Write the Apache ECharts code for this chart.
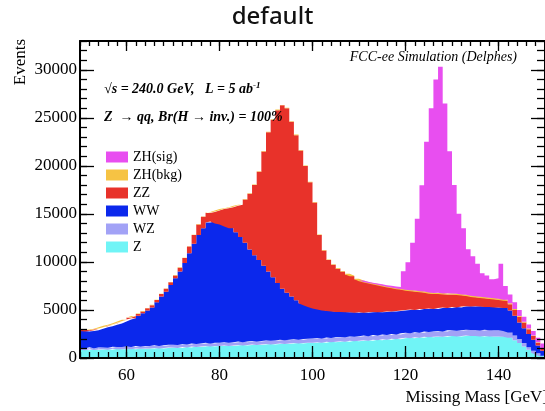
<!DOCTYPE html>
<html><head><meta charset="utf-8">
<script src="https://cdn.jsdelivr.net/npm/echarts@6/dist/echarts.min.js"></script>
<style>html,body{margin:0;padding:0;background:#fff}#c{width:545px;height:411px}</style>
</head><body><div id="c"></div>
<script>
// Bin edges: 1 GeV wide bins from 50 to 150 GeV
const binEdges = [];
for (let i = 0; i <= 100; i++) binEdges.push(50 + i);
const xMajorTicks = [60, 80, 100, 120, 140];
const yMajorTicks = [0, 5000, 10000, 15000, 20000, 25000, 30000];
const legendOrder = ['ZH(sig)', 'ZH(bkg)', 'ZZ', 'WW', 'WZ', 'Z'];

const valZ = [850,800,900,820,880,900,850,950,900,920,
950,900,1000,950,980,1000,1050,980,1050,1100,
1100,1050,1150,1100,1200,1150,1200,1250,1200,1250,
1250,1300,1250,1300,1350,1300,1350,1400,1350,1400,
1450,1400,1450,1500,1450,1500,1550,1500,1550,1600,
1600,1650,1600,1700,1650,1700,1750,1700,1800,1750,
1800,1850,1800,1900,1850,1950,1900,2000,1950,2050,
2100,2050,2150,2100,2200,2150,2200,2250,2200,2300,
2300,2250,2300,2350,2300,2300,2250,2300,2250,2250,
2250,2200,2100,1850,1550,1200,850,550,350,150];

const valWZ = [200,180,220,200,210,200,230,220,240,230,
250,240,260,250,270,260,280,270,290,280,
290,300,290,310,300,320,310,330,320,330,
340,330,350,340,360,350,370,360,380,370,
380,390,380,400,390,400,410,400,420,410,
420,430,420,440,430,450,440,460,450,470,
460,480,470,490,480,500,490,510,500,520,
530,520,540,530,550,560,550,570,560,580,
580,590,600,590,610,620,610,630,640,650,
650,620,550,480,420,350,280,200,150,80];

const valWW = [1750,1770,1680,1880,1960,2100,2220,2280,2460,2650,
2800,3010,3140,3450,3700,3990,4470,5150,5560,6220,
6910,7650,8460,9490,10400,11330,11990,12520,12680,12420,
12310,12070,11900,11460,10890,10350,9580,8940,8470,7830,
7170,6610,5970,5300,4960,4500,4040,3800,3530,3290,
3130,2970,2930,2760,2770,2650,2610,2590,2500,2480,
2490,2370,2480,2410,2420,2350,2460,2340,2450,2380,
2370,2480,2310,2470,2350,2440,2350,2380,2490,2320,
2420,2410,2450,2460,2440,2480,2490,2370,2410,2350,
2350,2380,2300,2070,1730,1550,1370,1150,800,520];

const valZZ = [150,130,160,150,140,160,150,170,200,190,
200,210,190,200,220,250,240,260,300,290,
300,400,500,700,900,1100,1200,1000,1000,1350,
1600,1900,2200,2750,3350,4500,5800,7300,9200,11900,
14500,16400,18000,19100,19200,18200,17200,15900,14500,13000,
11050,7750,6250,5300,4850,4500,4200,3950,3750,3500,
3250,3150,3000,2850,2800,2650,2500,2400,2250,2150,
2000,1900,1900,1750,1700,1550,1550,1450,1350,1400,
1300,1300,1150,1050,1000,900,900,900,850,850,
800,750,650,600,600,600,500,400,300,250];

const valZHbkg = [30,20,30,30,20,30,30,40,30,30,
30,30,40,30,30,40,30,40,40,30,
40,40,30,40,40,50,40,40,50,40,
50,40,50,50,40,50,50,60,50,50,
60,50,60,50,60,50,60,50,50,60,
50,60,50,60,50,60,50,60,60,50,
60,70,60,70,80,70,80,90,80,90,
100,110,120,110,120,130,120,130,120,130,
120,130,120,130,120,120,130,120,120,120,
120,110,100,90,80,70,60,50,40,30];

const valZHsig = [0,0,0,0,0,0,0,0,0,0,
0,0,0,0,0,0,0,0,0,0,
0,0,0,0,0,0,0,0,0,0,
0,0,0,0,0,0,0,0,0,0,
0,0,0,0,0,0,0,0,0,0,
0,0,0,0,0,0,0,0,0,0,
20,30,30,40,50,60,80,100,150,1840,
2880,4930,7480,11030,15580,19180,22230,23530,19780,14780,
11280,8330,6880,4730,4130,3380,2430,2280,1930,2080,
3630,1430,900,710,620,530,440,450,460,470];

const colors = {
  'Z': '#70f4f6', 'WZ': '#a2a2f6', 'WW': '#0b28ec',
  'ZZ': '#e8322a', 'ZH(bkg)': '#f6c344', 'ZH(sig)': '#e84ef0'
};

// Histogram drawn as a stacked step area; each bin value is held until the next edge.
// Empty bins are left out so that they draw no hairline.
function mk(name, vals) {
  const data = vals.concat([vals[vals.length - 1]]).map(function (v) { return v === 0 ? '-' : v; });
  return {
    name: name, type: 'line', stack: 'all', step: 'end', data: data,
    xAxisIndex: 0, yAxisIndex: 0,
    symbol: 'none', showSymbol: false,
    itemStyle: { color: colors[name] },
    lineStyle: { color: colors[name], width: 0, opacity: 0 },
    areaStyle: { color: colors[name], opacity: 1 },
    emphasis: { disabled: true }, silent: true
  };
}

const serif = 'Liberation Serif';
const black = '#000';
const frameLine = { show: true, onZero: false, lineStyle: { color: black, width: 2 } };
const noLine = { show: false, onZero: false };
const plain = function (v) { return String(v); };

function xAx(pos, major, len) {
  const a = {
    type: 'value', min: 50, max: 150, position: pos, z: 10,
    splitLine: { show: false },
    axisLine: major ? frameLine : noLine,
    axisTick: { show: true, inside: true, length: len, lineStyle: { color: black, width: 1.3 } },
    axisLabel: { show: false }
  };
  if (major) {
    a.axisTick.customValues = xMajorTicks;
    if (pos === 'bottom') {
      a.axisLabel = { show: true, customValues: xMajorTicks, margin: 9, formatter: plain,
        fontFamily: serif, fontSize: 17, color: black };
    }
  } else {
    a.interval = 2;
  }
  return a;
}
function yAx(pos, major, len) {
  const a = {
    type: 'value', min: 0, max: 33000, position: pos, z: 10,
    splitLine: { show: false },
    axisLine: major ? frameLine : noLine,
    axisTick: { show: true, inside: true, length: len, lineStyle: { color: black, width: 1.3 } },
    axisLabel: { show: false }
  };
  if (major) {
    a.axisTick.customValues = yMajorTicks;
    if (pos === 'left') {
      a.axisLabel = { show: true, customValues: yMajorTicks, margin: 3, formatter: plain,
        fontFamily: serif, fontSize: 17, color: black };
    }
  } else {
    a.interval = 1000;
  }
  return a;
}

const chart = echarts.init(document.getElementById('c'), null, { renderer: 'canvas' });
chart.setOption({
  animation: false,
  backgroundColor: '#fff',
  title: {
    text: 'default', left: 'center', top: 0,
    textStyle: { fontFamily: 'Noto Sans', fontSize: 24, fontWeight: 500, color: '#111' }
  },
  grid: { left: 80, top: 41, width: 467, height: 317, containLabel: false },
  legend: {
    orient: 'vertical', left: 101, top: 145, itemWidth: 22, itemHeight: 11, itemGap: 4,
    icon: 'rect', data: legendOrder, selectedMode: false,
    textStyle: { fontFamily: serif, fontSize: 14, color: black }
  },
  xAxis: [
    { type: 'category', data: binEdges, boundaryGap: false, show: false },
    xAx('bottom', true, 12),
    xAx('bottom', false, 6),
    xAx('top', true, 10),
    xAx('top', false, 5)
  ],
  yAxis: [
    yAx('left', true, 14),
    yAx('left', false, 7),
    yAx('right', true, 14),
    yAx('right', false, 8)
  ],
  series: [
    mk('Z', valZ), mk('WZ', valWZ), mk('WW', valWW),
    mk('ZZ', valZZ), mk('ZH(bkg)', valZHbkg), mk('ZH(sig)', valZHsig)
  ],
  graphic: [
    { type: 'text', x: 21, y: 62, rotation: Math.PI / 2, z: 20,
      style: { text: 'Events', font: '17px "Liberation Serif"', fill: black,
        textAlign: 'center', textVerticalAlign: 'middle' } },
    { type: 'text', x: 548, y: 398, z: 20,
      style: { text: 'Missing Mass [GeV]', font: '17px "Liberation Serif"', fill: black,
        textAlign: 'right', textVerticalAlign: 'middle' } },
    { type: 'text', x: 517, y: 57, z: 20,
      style: { text: 'FCC-ee Simulation (Delphes)', font: 'italic 14px "Liberation Serif"', fill: black,
        textAlign: 'right', textVerticalAlign: 'middle' } },
    { type: 'text', x: 104, y: 89, z: 20,
      style: { text: '√s = 240.0 GeV,   L = 5 ab{sup|-1}', font: 'italic bold 14px "Liberation Serif"', fill: black,
        textAlign: 'left', textVerticalAlign: 'middle',
        rich: { sup: { font: 'italic bold 9px "Liberation Serif"', fill: black, padding: [0, 0, 7, 0] } } } },
    { type: 'text', x: 104, y: 117, z: 20,
      style: { text: 'Z  → qq, Br(H → inv.) = 100%', font: 'italic bold 14px "Liberation Serif"', fill: black,
        textAlign: 'left', textVerticalAlign: 'middle' } }
  ]
});
</script>
</body></html>
